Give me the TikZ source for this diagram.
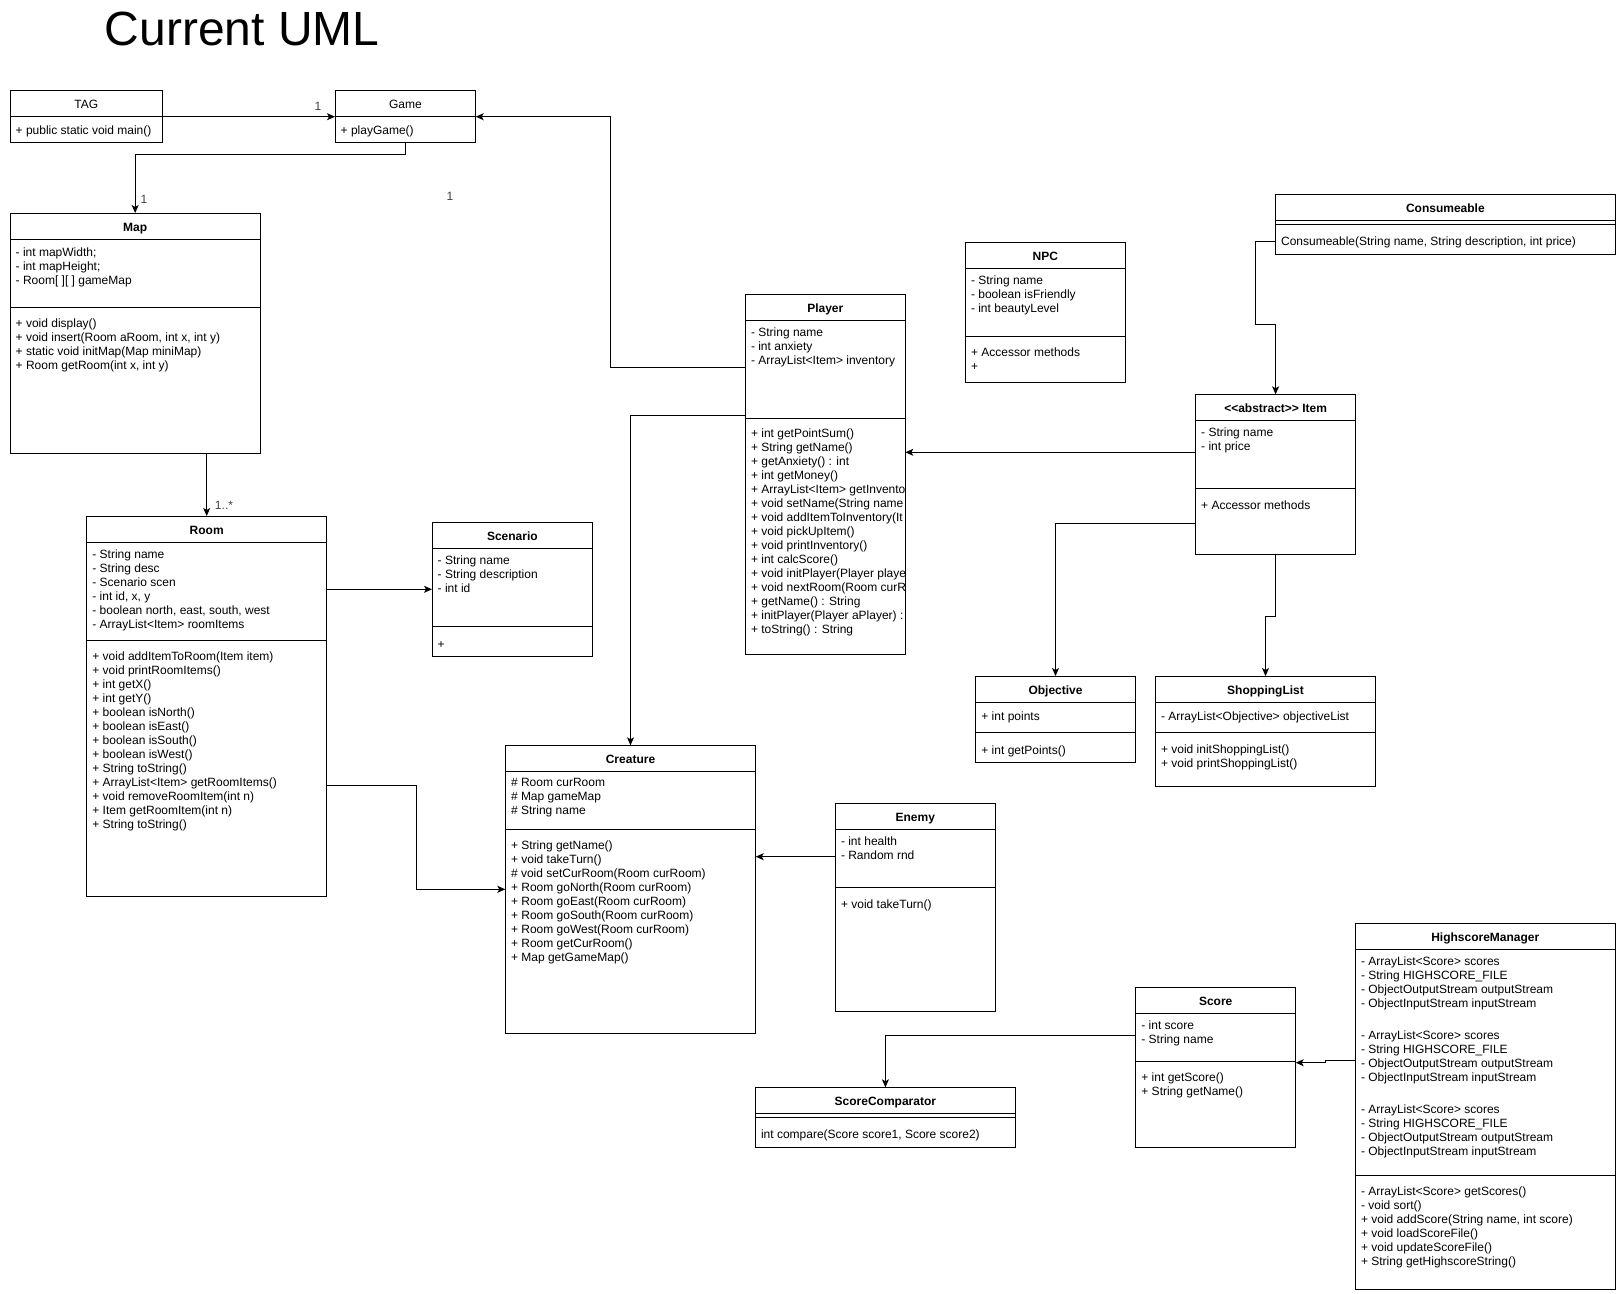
\documentclass[tikz,border=0pt]{standalone}
\usepackage{fontspec}
\setmainfont{Liberation Sans}[Ligatures=TeXReset]
\usetikzlibrary{arrows.meta,fit}
\begin{document}
\begin{tikzpicture}[x=1pt,y=-1pt,
  box/.style={draw, line width=1pt, inner sep=0pt, outer sep=0pt},
  sepl/.style={line width=1pt},
  conn/.style={line width=1pt, -{Stealth[length=8pt,width=7pt,inset=2pt]}},
  txt/.style={anchor=north west, inner sep=0pt, yshift=10pt, align=left,
    font=\fontsize{12}{14}\selectfont, execute at begin node={\rule{0pt}{10pt}}},
  ttl/.style={anchor=base, inner sep=0pt, font=\bfseries\fontsize{12}{14}\selectfont},
  ttlr/.style={anchor=base, inner sep=0pt, font=\fontsize{12}{14}\selectfont},
  lbl/.style={inner sep=0pt, font=\fontsize{12}{14}\selectfont, text=black!75}
]
\useasboundingbox (0,0) rectangle (1616,1293);

% Title
\node[anchor=base west, inner sep=0pt, font=\fontsize{48}{56}\selectfont] (title) at (104.5,45.5) {Current UML};

% TAG
\node[box, fit={(10,90) (162.7,142.3)}] (tag) {};
\draw[sepl] (tag.west |- 0,116.7) -- (tag.east |- 0,116.7);
\node[ttlr] (tagt) at (86.35,108.5) {TAG};
\node[txt] (tagm) at (15.5,134) {+ public static void main()};

% Game
\node[box, fit={(335,90) (475.7,142.3)}] (game) {};
\draw[sepl] (game.west |- 0,116.7) -- (game.east |- 0,116.7);
\node[ttlr] (gamet) at (405.35,108.5) {Game};
\node[txt] (gamem) at (340.5,134) {+ playGame()};

% Map
\node[box, fit={(10,213) (260.3,453)}] (map) {};
\draw[sepl] (map.west |- 0,239) -- (map.east |- 0,239);
\draw[sepl] (map.west |- 0,307) -- (map.east |- 0,307);
\node[ttl] (mapt) at (135.15,231.5) {Map};
\node[txt] (mapa) at (15.5,257.3) {- int mapWidth;\\- int mapHeight;\\- Room[ ][ ] gameMap};
\node[txt] (mapm) at (15.5,329) {+ void display()\\+ void insert(Room aRoom, int x, int y)\\+ static void initMap(Map miniMap)\\+ Room getRoom(int x, int y)};

% Room
\node[box, fit={(86.7,516) (326.7,896)}] (room) {};
\draw[sepl] (room.west |- 0,542) -- (room.east |- 0,542);
\draw[sepl] (room.west |- 0,640) -- (room.east |- 0,640);
\node[ttl] (roomt) at (206.7,534.5) {Room};
\node[txt] (rooma) at (92.2,559.6) {- String name\\- String desc\\- Scenario scen\\- int id, x, y\\- boolean north, east, south, west\\- ArrayList<Item> roomItems};
\node[txt] (roomm) at (92.2,661.8) {+ void addItemToRoom(Item item)\\+ void printRoomItems()\\+ int getX()\\+ int getY()\\+ boolean isNorth()\\+ boolean isEast()\\+ boolean isSouth()\\+ boolean isWest()\\+ String toString()\\+ ArrayList<Item> getRoomItems()\\+ void removeRoomItem(int n)\\+ Item getRoomItem(int n)\\+ String toString()};

% Scenario
\node[box, fit={(432,522) (592.7,656)}] (scenario) {};
\draw[sepl] (scenario.west |- 0,548) -- (scenario.east |- 0,548);
\draw[sepl] (scenario.west |- 0,626.7) -- (scenario.east |- 0,626.7);
\node[ttl] (scent) at (512.35,540.5) {Scenario};
\node[txt] (scena) at (437.5,565.6) {- String name\\- String description\\- int id};
\node[txt] (scenm) at (437.5,647.8) {+};

% Player
\node[box, fit={(745.3,294.3) (905.3,654.3)}] (player) {};
\draw[sepl] (player.west |- 0,320.7) -- (player.east |- 0,320.7);
\draw[sepl] (player.west |- 0,418.3) -- (player.east |- 0,418.3);
\node[ttl] (playert) at (825.3,312.8) {Player};
\node[txt] (playera) at (750.8,337.5) {- String name\\- int anxiety\\- ArrayList<Item> inventory};
\begin{scope}
\clip (player.north west) rectangle ([xshift=-0.6pt]player.south east);
\node[txt] (playerm) at (750.8,438.6) {+ int getPointSum()\\+ String getName()\\+ getAnxiety() : int\\+ int getMoney()\\+ ArrayList<Item> getInvento\\+ void setName(String name\\+ void addItemToInventory(It\\+ void pickUpItem()\\+ void printInventory()\\+ int calcScore()\\+ void initPlayer(Player playe\\+ void nextRoom(Room curR\\+ getName() : String\\+ initPlayer(Player aPlayer) :\\+ toString() : String};
\end{scope}

% NPC
\node[box, fit={(965.3,242.3) (1125.4,382.3)}] (npc) {};
\draw[sepl] (npc.west |- 0,268.3) -- (npc.east |- 0,268.3);
\draw[sepl] (npc.west |- 0,336) -- (npc.east |- 0,336);
\node[ttl] (npct) at (1045.35,260.8) {NPC};
\node[txt] (npca) at (970.8,285.5) {- String name\\- boolean isFriendly\\- int beautyLevel};
\node[txt] (npcm) at (970.8,357.6) {+ Accessor methods\\+};

% Consumeable
\node[box, fit={(1275.4,194.3) (1615.3,254)}] (consumeable) {};
\draw[sepl] (consumeable.west |- 0,220.7) -- (consumeable.east |- 0,220.7);
\draw[sepl] (consumeable.west |- 0,224) -- (consumeable.east |- 0,224);
\node[ttl] (const) at (1445.35,212.8) {Consumeable};
\node[txt] (consm) at (1280.9,245.3) {Consumeable(String name, String description, int price)};

% Item
\node[box, fit={(1195.5,394.3) (1355.7,554.3)}] (item) {};
\draw[sepl] (item.west |- 0,420) -- (item.east |- 0,420);
\draw[sepl] (item.west |- 0,488.3) -- (item.east |- 0,488.3);
\node[ttl] (itemt) at (1275.6,412.6) {<<abstract>> Item};
\node[txt] (itema) at (1201,437.8) {- String name\\- int price};
\node[txt] (itemm) at (1201,509.5) {+ Accessor methods};

% Objective
\node[box, fit={(975.7,676) (1135.3,762.3)}] (objective) {};
\draw[sepl] (objective.west |- 0,702.7) -- (objective.east |- 0,702.7);
\draw[sepl] (objective.west |- 0,732.3) -- (objective.east |- 0,732.3);
\node[ttl] (objt) at (1055.5,694.8) {Objective};
\node[txt] (obja) at (981.2,719.8) {+ int points};
\node[txt] (objm) at (981.2,754.5) {+ int getPoints()};

% ShoppingList
\node[box, fit={(1155.3,676) (1375.7,786.3)}] (shoppinglist) {};
\draw[sepl] (shoppinglist.west |- 0,702.7) -- (shoppinglist.east |- 0,702.7);
\draw[sepl] (shoppinglist.west |- 0,732.3) -- (shoppinglist.east |- 0,732.3);
\node[ttl] (shopt) at (1265.5,694.8) {ShoppingList};
\node[txt] (shopa) at (1160.8,719.8) {- ArrayList<Objective> objectiveList};
\node[txt] (shopm) at (1160.8,754.5) {+ void initShoppingList()\\+ void printShoppingList()};

% Creature
\node[box, fit={(505.3,745.3) (755.7,1033.3)}] (creature) {};
\draw[sepl] (creature.west |- 0,771.3) -- (creature.east |- 0,771.3);
\draw[sepl] (creature.west |- 0,829.3) -- (creature.east |- 0,829.3);
\node[ttl] (creat) at (630.5,763.6) {Creature};
\node[txt] (creaa) at (510.8,788.3) {\# Room curRoom\\\# Map gameMap\\\# String name};
\node[txt] (ream) at (510.8,850.7) {+ String getName()\\+ void takeTurn()\\\# void setCurRoom(Room curRoom)\\+ Room goNorth(Room curRoom)\\+ Room goEast(Room curRoom)\\+ Room goSouth(Room curRoom)\\+ Room goWest(Room curRoom)\\+ Room getCurRoom()\\+ Map getGameMap()};

% Enemy
\node[box, fit={(835.3,803.3) (995.3,1011)}] (enemy) {};
\draw[sepl] (enemy.west |- 0,829.3) -- (enemy.east |- 0,829.3);
\draw[sepl] (enemy.west |- 0,887.3) -- (enemy.east |- 0,887.3);
\node[ttl] (enemyt) at (915.3,821.6) {Enemy};
\node[txt] (enemya) at (840.8,846.7) {- int health\\- Random rnd};
\node[txt] (enemym) at (840.8,908.5) {+ void takeTurn()};

% ScoreComparator
\node[box, fit={(755.3,1087.3) (1015.5,1147)}] (sc) {};
\draw[sepl] (sc.west |- 0,1113.3) -- (sc.east |- 0,1113.3);
\draw[sepl] (sc.west |- 0,1117.3) -- (sc.east |- 0,1117.3);
\node[ttl] (sct) at (885.4,1105.7) {ScoreComparator};
\node[txt] (scm) at (760.8,1138.7) {int compare(Score score1, Score score2)};

% Score
\node[box, fit={(1135.7,987.7) (1295.7,1147.3)}] (score) {};
\draw[sepl] (score.west |- 0,1013.3) -- (score.east |- 0,1013.3);
\draw[sepl] (score.west |- 0,1061) -- (score.east |- 0,1061);
\node[ttl] (scoret) at (1215.7,1005.8) {Score};
\node[txt] (scorea) at (1141.2,1030.7) {- int score\\- String name};
\node[txt] (scorem) at (1141.2,1082.6) {+ int getScore()\\+ String getName()};

% HighscoreManager
\node[box, fit={(1355.3,923.3) (1615.3,1289.3)}] (hm) {};
\draw[sepl] (hm.west |- 0,949.3) -- (hm.east |- 0,949.3);
\draw[sepl] (hm.west |- 0,1175.7) -- (hm.east |- 0,1175.7);
\node[ttl] (hmt) at (1485.3,941.5) {HighscoreManager};
\node[txt] (hma1) at (1360.8,966.7) {- ArrayList<Score> scores\\- String HIGHSCORE\_FILE\\- ObjectOutputStream outputStream\\- ObjectInputStream inputStream};
\node[txt] (hma2) at (1360.8,1040.7) {- ArrayList<Score> scores\\- String HIGHSCORE\_FILE\\- ObjectOutputStream outputStream\\- ObjectInputStream inputStream};
\node[txt] (hma3) at (1360.8,1114.7) {- ArrayList<Score> scores\\- String HIGHSCORE\_FILE\\- ObjectOutputStream outputStream\\- ObjectInputStream inputStream};
\node[txt] (hmm) at (1360.8,1196.7) {- ArrayList<Score> getScores()\\- void sort()\\+ void addScore(String name, int score)\\+ void loadScoreFile()\\+ void updateScoreFile()\\+ String getHighscoreString()};

% Connectors
\draw[conn] (tag.east |- 0,116.7) -- (game.west |- 0,116.7);
\draw[conn] (player.west |- 0,367.3) -| (610.4,116.7) -- (game.east |- 0,116.7);
\draw[conn] (game.south) |- (135.15,154.3) -- (map.north);
\draw[conn] (map.south -| room.north) -- (room.north);
\draw[conn] (room.east |- 0,589.3) -- (scenario.west |- 0,589.3);
\draw[conn] (room.east |- 0,785.3) -| (416,889.3) -- (creature.west |- 0,889.3);
\draw[conn] (player.west |- 0,415.3) -| (creature.north);
\draw[conn] (enemy.west |- 0,856.7) -- (creature.east |- 0,856.7);
\draw[conn] (item.west |- 0,452.3) -- (player.east |- 0,452.3);
\draw[conn] (consumeable.west |- 0,241.3) -| (1255,324.3) -| (item.north);
\draw[conn] (item.west |- 0,523) -| (objective.north);
\draw[conn] (item.south) |- (1265.5,616) -- (shoppinglist.north);
\draw[conn] (hm.west |- 0,1060.7) -- (1325.7,1060.7) -- (1325.7,1062.7) -- (score.east |- 0,1062.7);
\draw[conn] (score.west |- 0,1035.3) -| (sc.north);

% Multiplicity labels
\node[lbl] (m1) at (318,106.7) {1};
\node[lbl] (m2) at (144,199) {1};
\node[lbl] (m3) at (450,196.7) {1};
\node[lbl] (m4) at (224,505) {1..*};
\end{tikzpicture}
\end{document}
